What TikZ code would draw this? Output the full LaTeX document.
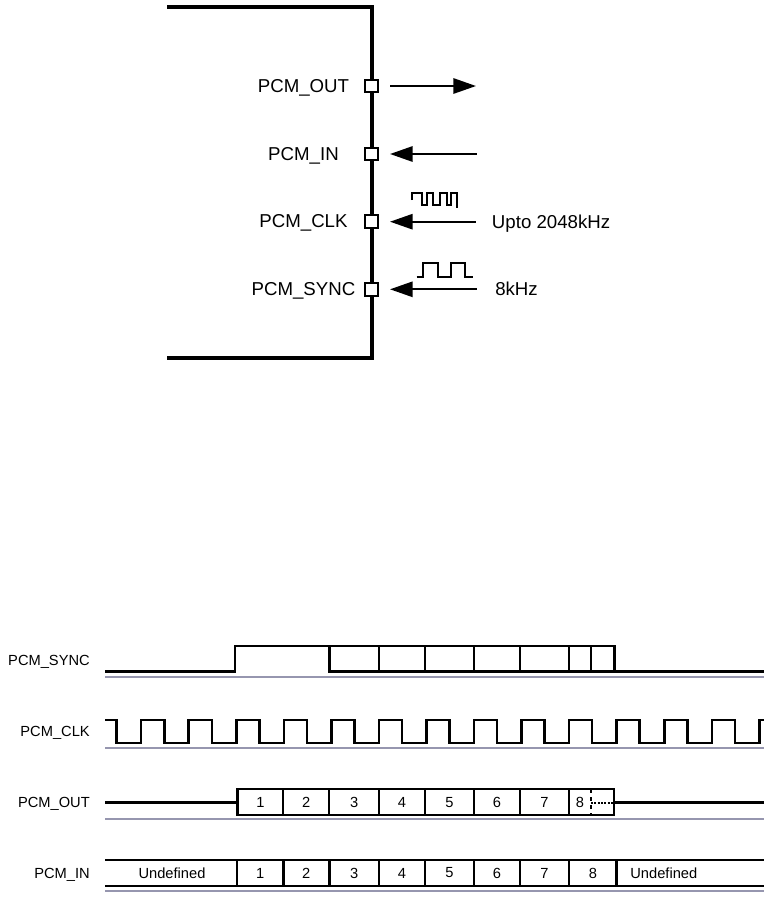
\documentclass[tikz,border=0pt]{standalone}
\usepackage{fontspec}
\setmainfont{Liberation Sans}
\usetikzlibrary{arrows.meta}
\definecolor{axisgray}{RGB}{150,150,175}
\begin{document}
\begin{tikzpicture}[x=0.75pt,y=-0.75pt,line join=miter,>={Triangle[length=17pt,width=11.5pt]},
	font=\fontsize{14}{16}\selectfont,
	pinbox/.style={draw,fill=white,line width=1.5pt,minimum size=9.5pt,inner sep=0pt},
	pinlabel/.style={anchor=base,inner sep=0pt},
	arrowline/.style={line width=1.5pt,shorten <=8.25pt},
	sig/.style={line width=1.9pt},
	cellline/.style={line width=1.5pt},
	groundline/.style={draw=axisgray,line width=1.6pt},
	rowlabel/.style={anchor=base east,inner sep=0pt,font=\fontsize{11}{13}\selectfont},
	celltext/.style={inner sep=0pt,font=\fontsize{11}{13}\selectfont}]
	\useasboundingbox (0,0) rectangle (775,897);
	\def\xl{105} \def\xr{764} % left/right end of the waveforms
	% the device
	\draw[line width=3pt] (167,7.3)--(371.7,7.3)--(371.7,358.3)--(167,358.3);
	\node[pinbox] (pinout) at (371.7,86) {};
	\node[pinbox] (pinin) at (371.7,154) {};
	\node[pinbox] (pinclk) at (371.7,221.7) {};
	\node[pinbox] (pinsync) at (371.7,289.3) {};
	\node[pinlabel] (labout) at (303.5,92) {PCM\_OUT};
	\node[pinlabel] (labin) at (303.5,160) {PCM\_IN};
	\node[pinlabel] (labclk) at (303.5,227.7) {PCM\_CLK};
	\node[pinlabel] (labsync) at (303.5,295.3) {PCM\_SYNC};
	\coordinate (outend) at (476,86);
	\coordinate (inend) at (476.7,154);
	\coordinate (clkend) at (476,221.7);
	\coordinate (syncend) at (476.7,289.3);
	\draw[arrowline,->] (pinout.east)--(outend);
	\draw[arrowline,<-] (pinin.east)--(inend);
	\draw[arrowline,<-] (pinclk.east)--(clkend);
	\draw[arrowline,<-] (pinsync.east)--(syncend);
	\draw[line width=1.5pt] (412.3,200)--(412.3,193)--(421.7,193)--(421.7,205)--(426.7,205)--(426.7,193)--(433.3,193)--(433.3,205)--(440,205)--(440,193)--(446.7,193)--(446.7,205)--(451,205)--(451,193)--(457.3,193)--(457.3,208);
	\draw[line width=1.5pt] (416.5,276.7)--(423,276.7)--(423,262.7)--(437.7,262.7)--(437.7,276.7)--(450.5,276.7)--(450.5,262.7)--(464.5,262.7)--(464.5,276.7)--(472.5,276.7);
	\node[anchor=base west,inner sep=0pt] (clkfreq) at (491.7,228) {Upto 2048kHz};
	\node[anchor=base west,inner sep=0pt] (syncfreq) at (495,295.3) {8kHz};
	% timing
	\node[rowlabel] (rowsync) at (90,665) {PCM\_SYNC};
	\node[rowlabel] (rowclk) at (90,736.7) {PCM\_CLK};
	\node[rowlabel] (rowout) at (90,807.5) {PCM\_OUT};
	\node[rowlabel] (rowin) at (90,878) {PCM\_IN};
	% PCM_SYNC
	\draw[sig] (\xl,671.5)--(235,671.5)--(235,646)--(614.5,646)--(614.5,671.5)--(\xr,671.5);
	\draw[sig] (329.3,646)--(329.3,671.5)--(614.5,671.5);
	\foreach \x in {379,425,474,520,569,591} \draw[cellline] (\x,646)--(\x,671.5);
	\draw[groundline] (\xl,677.3)--(\xr,677.3);
	% PCM_CLK
	\draw[sig] (\xl,720) foreach \k in {0,...,13} {--({116.7+47.55*\k},720)--({116.7+47.55*\k},743)--({141.2+47.55*\k},743)--({141.2+47.55*\k},720)}--(\xr,720);
	\draw[groundline] (\xl,748)--(\xr,748);
	% PCM_OUT
	\draw[sig] (\xl,802.5)--(237.7,802.5);
	\draw[sig] (237.7,789) rectangle (614,815);
	\draw[sig] (614,802.5)--(\xr,802.5);
	\foreach \x in {283.3,329.3,379,425,474,520,569} \draw[cellline] (\x,789)--(\x,815);
	\draw[cellline,dashed] (591,789)--(591,815);
	\draw[cellline,densely dotted] (591,802.5)--(614,802.5);
	\foreach \a/\b/\n in {237.7/283.3/1,283.3/329.3/2,329.3/379/3,379/425/4,425/474/5,474/520/6,520/569/7,569/591/8}
		\node[celltext] (out\n) at ({(\a+\b)/2},802.5) {\n};
	\draw[groundline] (\xl,819.3)--(\xr,819.3);
	% PCM_IN
	\draw[sig] (\xl,860)--(\xr,860);
	\draw[sig] (\xl,886)--(\xr,886);
	\foreach \x in {237,283.3,329.3,379,425,474,520,569,616.7} \draw[sig] (\x,860)--(\x,886);
	\foreach \a/\b/\n in {237/283.3/1,283.3/329.3/2,329.3/379/3,379/425/4,425/474/5,474/520/6,520/569/7,569/616.7/8}
		\node[celltext] (in\n) at ({(\a+\b)/2},873) {\n};
	\node[celltext] (inundefl) at (172,873) {Undefined};
	\node[celltext] (inundefr) at (663.8,873) {Undefined};
	\draw[groundline] (\xl,890.7)--(\xr,890.7);
\end{tikzpicture}
\end{document}
